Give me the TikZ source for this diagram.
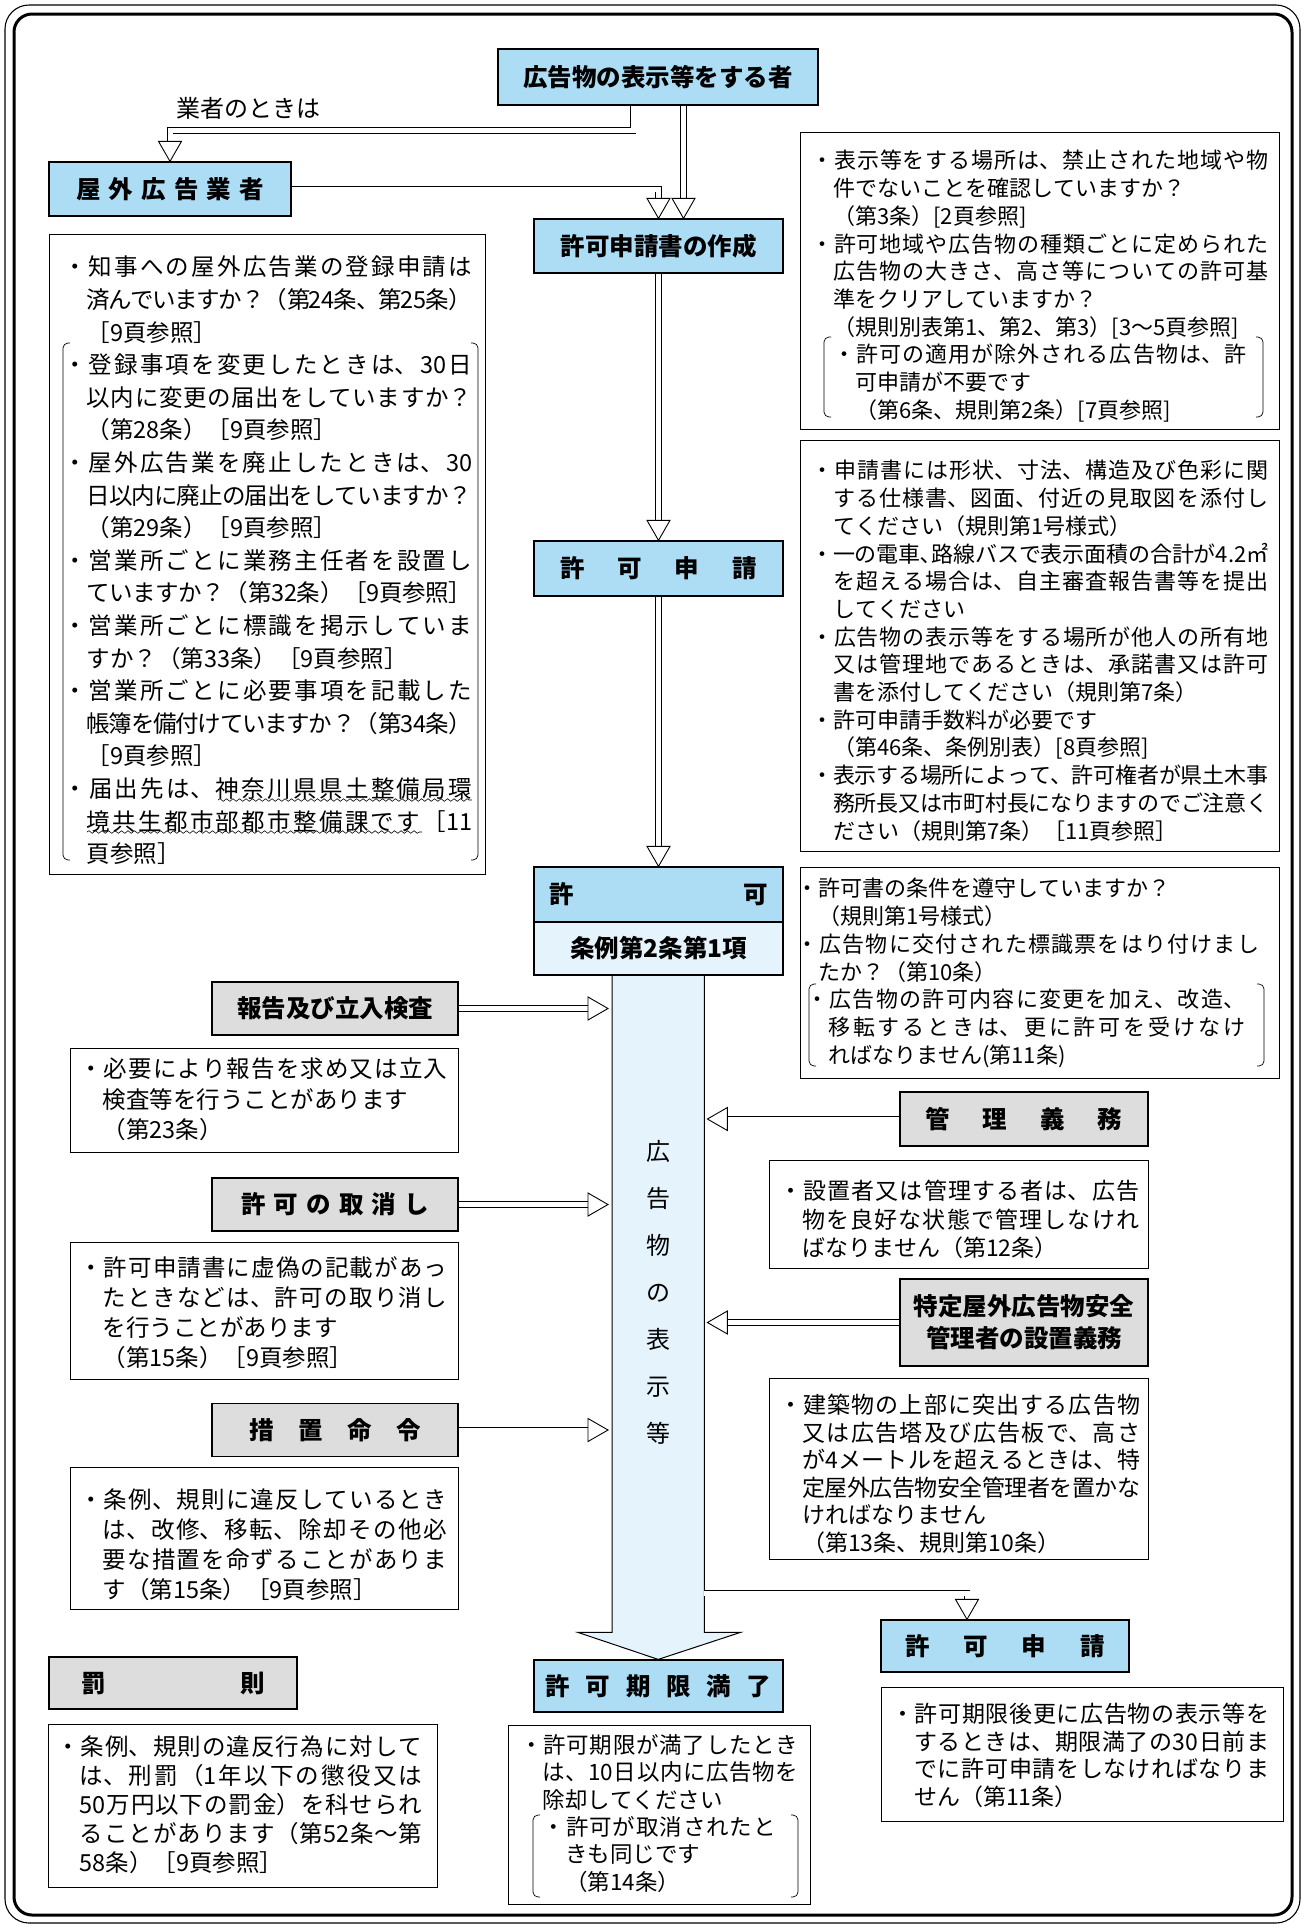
\documentclass[tikz,border=0pt]{standalone}
\usepackage{fontspec}
\setmainfont{Noto Sans CJK JP}
\usetikzlibrary{calc,decorations.pathmorphing}
\XeTeXlinebreaklocale "ja"
\XeTeXlinebreakskip=0pt plus 4pt minus 1.6pt
\XeTeXlinebreakpenalty=10000
\definecolor{hblue}{RGB}{172,221,245}
\definecolor{lblue}{RGB}{229,243,252}
\definecolor{hgray}{RGB}{221,221,221}
\newcommand\bl{\par\hangindent=1em\hangafter=1\noindent ・}
\newcommand\spread[2]{\makebox[#1][s]{#2}}
\newcommand\hfont{\fontsize{24.5}{32}\selectfont\bfseries}
\newcommand\headD[1]{\draw[head] ($(#1)+(-11.5,-20)$) -- (#1) -- ($(#1)+(11.5,-20)$) -- cycle;}
\newcommand\headR[1]{\draw[head] ($(#1)+(-20,-11.5)$) -- (#1) -- ($(#1)+(-20,11.5)$) -- cycle;}
\newcommand\headL[1]{\draw[head] ($(#1)+(20,-11.5)$) -- (#1) -- ($(#1)+(20,11.5)$) -- cycle;}
\begin{document}
\begin{tikzpicture}[x=1pt,y=-1pt,
  hb/.style={draw, line width=1.3pt, fill=hblue, inner sep=0pt, font=\hfont},
  gb/.style={draw, line width=1.3pt, fill=hgray, inner sep=0pt, font=\hfont},
  lbx/.style={draw, line width=1.3pt, fill=lblue, inner sep=0pt, font=\hfont},
  tb/.style={draw, line width=1.1pt, fill=white, inner sep=0pt, anchor=north west},
  txt/.style={anchor=north west, inner sep=0pt, align=justify},
  pipe/.style={line width=0.9pt, double=white, double distance=5pt},
  head/.style={draw=black, fill=white, line width=0.9pt, line join=miter},
  brk/.style={line width=0.7pt, rounded corners=5pt},
  wavy/.style={line width=0.6pt, decorate, decoration={snake, amplitude=1.3pt, segment length=6.5pt}}
]
\useasboundingbox (0,0) rectangle (1305,1928);
% frame
\draw[line width=1.1pt, rounded corners=24pt] (5,5) rectangle (1300,1923);
\draw[line width=3pt, rounded corners=18pt] (14,14) rectangle (1292,1915);

% big arrow (shaft)
\node[inner sep=0pt, minimum width=92pt, minimum height=657pt, anchor=north west] (shaft) at (612,975) {};
\draw[line width=1pt, fill=lblue, line join=miter] (shaft.north west) -- (shaft.south west) -- ++(-34,0) -- ($(shaft.south)+(0,27)$) -- ($(shaft.south east)+(36,0)$) -- (shaft.south east) -- (shaft.north east);
\node[font=\fontsize{24}{47}\selectfont, align=center, inner sep=0pt] (vt) at (658,1292) {広\\告\\物\\の\\表\\示\\等};

% heading boxes
\node[hb, minimum width=320pt, minimum height=56pt] (A) at (658,77) {広告物の表示等をする者};
\node[hb, minimum width=242pt, minimum height=54pt] (gyosha) at (170,189) {\spread{188pt}{屋\hfill 外\hfill 広\hfill 告\hfill 業\hfill 者}};
\node[hb, minimum width=249pt, minimum height=54pt] (sakusei) at (658.5,246) {許可申請書の作成};
\node[hb, minimum width=249pt, minimum height=55pt] (shinsei) at (658.5,568.5) {\spread{196pt}{許\hfill 可\hfill 申\hfill 請}};
\node[hb, minimum width=249pt, minimum height=55pt] (kyoka) at (658.5,894.5) {\spread{219pt}{許\hfill 可}};
\node[lbx, minimum width=249pt, minimum height=53pt] (jourei) at (658.5,948.5) {条例第2条第1項};
\node[hb, minimum width=249pt, minimum height=52pt] (manryo) at (658.5,1686) {\spread{226pt}{許\hfill 可\hfill 期\hfill 限\hfill 満\hfill 了}};
\node[hb, minimum width=248pt, minimum height=52pt] (shinsei2) at (1005,1646) {\spread{200pt}{許\hfill 可\hfill 申\hfill 請}};

\node[gb, minimum width=246pt, minimum height=53pt] (houkoku) at (335,1008.5) {報告及び立入検査};
\node[gb, minimum width=246pt, minimum height=53pt] (torikeshi) at (335,1204.5) {\spread{188pt}{許\hfill 可\hfill の\hfill 取\hfill 消\hfill し}};
\node[gb, minimum width=246pt, minimum height=53pt] (sochi) at (335,1430) {\spread{172pt}{措\hfill 置\hfill 命\hfill 令}};
\node[gb, minimum width=248pt, minimum height=54pt] (kanri) at (1024,1119) {\spread{197pt}{管\hfill 理\hfill 義\hfill 務}};
\node[gb, minimum width=248pt, minimum height=87pt, align=center] (tokutei) at (1024,1322.5) {特定屋外広告物安全\\管理者の設置義務};
\node[gb, minimum width=248pt, minimum height=52pt] (bassoku) at (173,1683) {\spread{183pt}{罰\hfill 則}};

\node[font=\fontsize{24}{28}\selectfont, inner sep=0pt] (lbl) at (248,108) {業者のときは};

% text boxes
\node[tb, minimum width=436pt, minimum height=640pt] (lb1) at (49,234) {};
\node[tb, minimum width=479pt, minimum height=297pt] (rb1) at (800,132) {};
\node[tb, minimum width=479pt, minimum height=411pt] (rb2) at (800,440) {};
\node[tb, minimum width=479pt, minimum height=211pt] (rb3) at (800,867) {};
\node[tb, minimum width=388pt, minimum height=104pt] (lb2) at (70,1048) {};
\node[tb, minimum width=379pt, minimum height=108pt] (rb4) at (769,1160) {};
\node[tb, minimum width=388pt, minimum height=137pt] (lb3) at (70,1242) {};
\node[tb, minimum width=379pt, minimum height=181pt] (rb5) at (769,1378) {};
\node[tb, minimum width=388pt, minimum height=142pt] (lb4) at (70,1467) {};
\node[tb, minimum width=402pt, minimum height=134pt] (rb6) at (881,1687) {};
\node[tb, minimum width=302pt, minimum height=179pt] (mb) at (508,1725) {};
\node[tb, minimum width=389pt, minimum height=163pt] (lb5) at (48,1724) {};

% texts
\node[txt, text width=409pt, font={\fontsize{23.5}{32.6}\selectfont}] (lb1t) at (63,243) {%
\bl 知事への屋外広告業の登録申請は\linebreak 済んでいますか？（第24条、第25条）\linebreak ［9頁参照］
\bl 登録事項を変更したときは、30日\linebreak 以内に変更の届出をしていますか？\linebreak （第28条）［9頁参照］
\bl 屋外広告業を廃止したときは、30\linebreak 日以内に廃止の届出をしていますか？\linebreak （第29条）［9頁参照］
\bl 営業所ごとに業務主任者を設置し\linebreak ていますか？（第32条）［9頁参照］
\bl 営業所ごとに標識を掲示していま\linebreak すか？（第33条）［9頁参照］
\bl 営業所ごとに必要事項を記載した\linebreak 帳簿を備付けていますか？（第34条）\linebreak ［9頁参照］
\bl 届出先は、神奈川県県土整備局環\linebreak 境共生都市部都市整備課です［11\linebreak 頁参照］\par};

\node[txt, text width=457pt, font={\fontsize{22}{27.7}\selectfont}] (rb1t) at (811,141) {%
\bl 表示等をする場所は、禁止された地域や物\linebreak 件でないことを確認していますか？\newline （第3条）[2頁参照]
\bl 許可地域や広告物の種類ごとに定められた\linebreak 広告物の大きさ、高さ等についての許可基\linebreak 準をクリアしていますか？\newline （規則別表第1、第2、第3）[3〜5頁参照]\par
{\leftskip=1em\rightskip=1em\bl 許可の適用が除外される広告物は、許\linebreak 可申請が不要です\newline （第6条、規則第2条）[7頁参照]\par}};

\node[txt, text width=457pt, font={\fontsize{22}{27.7}\selectfont}] (rb2t) at (811,451) {%
\bl 申請書には形状、寸法、構造及び色彩に関\linebreak する仕様書、図面、付近の見取図を添付し\linebreak てください（規則第1号様式）
\bl 一の電車､路線バスで表示面積の合計が4.2㎡\linebreak を超える場合は、自主審査報告書等を提出\linebreak してください
\bl 広告物の表示等をする場所が他人の所有地\linebreak 又は管理地であるときは、承諾書又は許可\linebreak 書を添付してください（規則第7条）
\bl 許可申請手数料が必要です\newline （第46条、条例別表）[8頁参照]
\bl 表示する場所によって、許可権者が県土木事\linebreak 務所長又は市町村長になりますのでご注意く\linebreak ださい（規則第7条）［11頁参照］\par};

\node[txt, text width=463pt, font={\fontsize{22}{27.7}\selectfont}] (rb3t) at (796,869) {%
\bl 許可書の条件を遵守していますか？\newline （規則第1号様式）
\bl 広告物に交付された標識票をはり付けまし\linebreak たか？（第10条）\par
{\leftskip=10pt\rightskip=14pt\bl 広告物の許可内容に変更を加え、改造、\linebreak 移転するときは、更に許可を受けなけ\linebreak ればなりません(第11条)\par}};

\node[txt, text width=368pt, font={\fontsize{23.5}{30.5}\selectfont}] (lb2t) at (79,1047) {%
\bl 必要により報告を求め又は立入\linebreak 検査等を行うことがあります\newline （第23条）\par};

\node[txt, text width=360pt, font={\fontsize{23}{28.5}\selectfont}] (rb4t) at (779,1171) {%
\bl 設置者又は管理する者は、広告\linebreak 物を良好な状態で管理しなけれ\linebreak ばなりません（第12条）\par};

\node[txt, text width=368pt, font={\fontsize{23.5}{30}\selectfont}] (lb3t) at (79,1246) {%
\bl 許可申請書に虚偽の記載があっ\linebreak たときなどは、許可の取り消し\linebreak を行うことがあります\newline （第15条）［9頁参照］\par};

\node[txt, text width=361pt, font={\fontsize{23}{27.5}\selectfont}] (rb5t) at (779,1386) {%
\bl 建築物の上部に突出する広告物\linebreak 又は広告塔及び広告板で、高さ\linebreak が4メートルを超えるときは、特\linebreak 定屋外広告物安全管理者を置かな\linebreak ければなりません\newline （第13条、規則第10条）\par};

\node[txt, text width=368pt, font={\fontsize{23.5}{30}\selectfont}] (lb4t) at (79,1478) {%
\bl 条例、規則に違反しているとき\linebreak は、改修、移転、除却その他必\linebreak 要な措置を命ずることがありま\linebreak す（第15条）［9頁参照］\par};

\node[txt, text width=378pt, font={\fontsize{23}{27.5}\selectfont}] (rb6t) at (891,1695) {%
\bl 許可期限後更に広告物の表示等を\linebreak するときは、期限満了の30日前ま\linebreak でに許可申請をしなければなりま\linebreak せん（第11条）\par};

\node[txt, text width=278pt, font={\fontsize{22.5}{27.3}\selectfont}] (mbt) at (520,1726) {%
\bl 許可期限が満了したとき\linebreak は、10日以内に広告物を\linebreak 除却してください\par
{\leftskip=1em\rightskip=1em\bl 許可が取消されたと\linebreak きも同じです\newline （第14条）\par}};

\node[txt, text width=366pt, font={\fontsize{23.5}{29}\selectfont}] (lb5t) at (56,1726) {%
\bl 条例、規則の違反行為に対して\linebreak は、刑罰（1年以下の懲役又は\linebreak 50万円以下の罰金）を科せられ\linebreak ることがあります（第52条〜第\linebreak 58条）［9頁参照］\par};

% brackets
\draw[brk] (70,343) -- (63,343) -- (63,860) -- (70,860);
\draw[brk] (471,343) -- (478,343) -- (478,860) -- (471,860);
\draw[brk] (831,337) -- (824,337) -- (824,417) -- (831,417);
\draw[brk] (1256,337) -- (1263,337) -- (1263,417) -- (1256,417);
\draw[brk] (816,984) -- (809,984) -- (809,1066) -- (816,1066);
\draw[brk] (1257,984) -- (1264,984) -- (1264,1066) -- (1257,1066);
\draw[brk] (540,1815) -- (533,1815) -- (533,1897) -- (540,1897);
\draw[brk] (791,1815) -- (798,1815) -- (798,1897) -- (791,1897);

% wavy underlines
\draw[wavy] (218,800) -- (472,800);
\draw[wavy] (87,832) -- (422,832);

% pipes
\coordinate (t1) at (gyosha.north);
\draw[pipe] ([xshift=-25pt]A.south) |- ($(t1)+(0,-31)$) -- ($(t1)+(0,-20)$);
\headD{t1}
\coordinate (t2) at ([xshift=25pt]sakusei.north);
\draw[pipe] (t2 |- A.south) -- ($(t2)+(0,-20)$);
\headD{t2}
\coordinate (t3) at (sakusei.north);
\draw[pipe] (gyosha.east) -| ($(t3)+(0,-20)$);
\headD{t3}
\coordinate (t4) at (shinsei.north);
\draw[pipe] (sakusei.south) -- ($(t4)+(0,-20)$);
\headD{t4}
\coordinate (t5) at (kyoka.north);
\draw[pipe] (shinsei.south) -- ($(t5)+(0,-20)$);
\headD{t5}

\coordinate (h1) at ($(houkoku.east -| shaft.west)+(-4,0)$);
\draw[pipe] (houkoku.east) -- ($(h1)+(-20,0)$);
\headR{h1}
\coordinate (h2) at ($(torikeshi.east -| shaft.west)+(-4,0)$);
\draw[pipe] (torikeshi.east) -- ($(h2)+(-20,0)$);
\headR{h2}
\coordinate (h3) at ($(sochi.east -| shaft.west)+(-4,0)$);
\draw[pipe] (sochi.east) -- ($(h3)+(-20,0)$);
\headR{h3}
\coordinate (k1) at ($(kanri.west -| shaft.east)+(3,0)$);
\draw[pipe] (kanri.west) -- ($(k1)+(20,0)$);
\headL{k1}
\coordinate (k2) at ($(tokutei.west -| shaft.east)+(3,0)$);
\draw[pipe] (tokutei.west) -- ($(k2)+(20,0)$);
\headL{k2}

\coordinate (y8) at (0,1593);
\coordinate (t8) at ([xshift=-38pt]shinsei2.north);
\draw[pipe] (shaft.east |- y8) -| ($(t8)+(0,-20)$);
\headD{t8}
\end{tikzpicture}
\end{document}
